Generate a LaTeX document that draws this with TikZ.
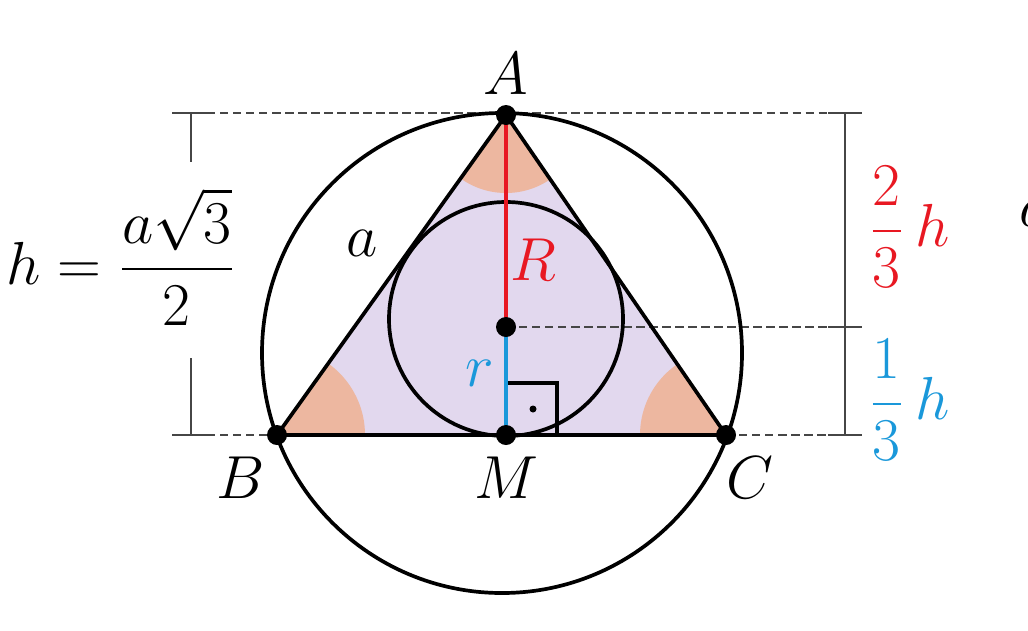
\documentclass[tikz,border=0pt]{standalone}
\usepackage{amsmath,amssymb}
\usepackage{xcolor}
\usetikzlibrary{calc}

\definecolor{triFill}{RGB}{226,216,238}
\definecolor{angFill}{RGB}{237,183,160}
\definecolor{radRed}{RGB}{232,24,34}
\definecolor{radBlue}{RGB}{26,152,218}
\definecolor{dimGray}{RGB}{70,70,70}

\begin{document}
\begin{tikzpicture}[x=0.01cm, y=-0.01cm,
    line/.style={line width=1.05pt},
    dimline/.style={line width=0.6pt, dimGray},
    dashline/.style={dimline, dash pattern=on 2.4pt off 1.3pt},
    lbl/.style={font=\fontsize{16}{18}\selectfont}]

    \useasboundingbox (0,0) rectangle (1028,630);

    % Points of the triangle
    \coordinate (A) at (506,115);
    \coordinate (B) at (277,435);
    \coordinate (C) at (726,435);
    \coordinate (M) at (506,435);
    \coordinate (O) at (506,327);
    \coordinate (U) at (502,353);
    \coordinate (I) at (506,319);

    % Triangle area and angle sectors
    \fill[triFill] (A) -- (B) -- (C) -- cycle;
    \begin{scope}
        \clip (A) -- (B) -- (C) -- cycle;
        \fill[angFill] (A) circle (78);
        \fill[angFill] (B) circle (88);
        \fill[angFill] (C) circle (86);
    \end{scope}

    % Dashed guide lines
    \draw[dashline] (207,113) -- (828,113);
    \draw[dashline] (O) -- (828,327);
    \draw[dashline] (207,435) -- (B);
    \draw[dashline] (C) -- (828,435);

    % Height on the left
    \draw[dimline] (191,113) -- (191,162);
    \draw[dimline] (191,358) -- (191,435);
    \draw[dimline] (172,113) -- (207,113);
    \draw[dimline] (172,435) -- (207,435);

    % Parts of the height on the right
    \draw[dimline] (845,113) -- (845,435);
    \draw[dimline] (828,113) -- (862,113);
    \draw[dimline] (828,327) -- (862,327);
    \draw[dimline] (828,435) -- (862,435);

    % Circles and triangle
    \draw[line] (U) circle (240);
    \draw[line] (I) circle (117);
    \draw[line, line join=round] (A) -- (B) -- (C) -- cycle;

    % Right angle at M
    \draw[line] (M) rectangle ++(51,-52);
    \fill ($(M)+(27,-26)$) circle (3.5);

    % Radii
    \draw[radRed, line width=1.25pt] (A) -- (O);
    \draw[radBlue, line width=1.25pt] (O) -- (M);

    % Points
    \foreach \p in {A,B,C,M,O}
        \fill (\p) circle (10);

    % Labels
    \node[lbl] (lA) at (506,74) {$A$};
    \node[lbl] (lB) at (241,478) {$B$};
    \node[lbl] (lM) at (506,478) {$M$};
    \node[lbl] (lC) at (750,478) {$C$};
    \node[lbl] (la) at (362,243) {$a$};
    \node[lbl, text=radRed] (lR) at (533,260) {$R$};
    \node[lbl, text=radBlue] (lr) at (480,373) {$r$};

    \node[font=\fontsize{17}{20}\selectfont] (hform) at (121,257) {$h=\dfrac{a\sqrt{3}}{2}$};
    \node[font=\fontsize{18}{22}\selectfont, text=radRed] (twoThirds) at (909,227) {$\dfrac{2}{3}\,h$};
    \node[font=\fontsize{18}{22}\selectfont, text=radBlue] (oneThird) at (909,400) {$\dfrac{1}{3}\,h$};
    \node[font=\fontsize{17}{20}\selectfont] (aCut) at (1035,213) {$a$};

\end{tikzpicture}
\end{document}
